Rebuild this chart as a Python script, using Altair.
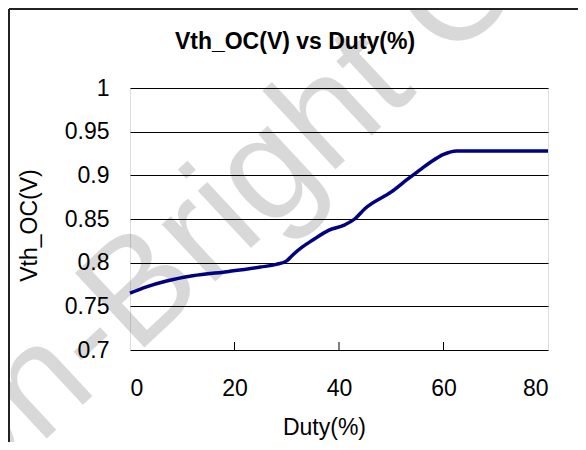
import altair as alt
import pandas as pd

# ---- data ----
duty = [0, 3, 7, 12, 19, 25, 28, 30, 31, 33, 35, 38, 41, 43, 45, 50, 53, 55, 57.5, 60, 62.5, 70, 80]
vth = [0.765, 0.772, 0.779, 0.785, 0.790, 0.795, 0.798, 0.802, 0.808, 0.818, 0.826, 0.837,
       0.843, 0.850, 0.862, 0.881, 0.895, 0.904, 0.915, 0.924, 0.928, 0.928, 0.928]
y_ticks = [0.7, 0.75, 0.8, 0.85, 0.9, 0.95, 1.0]
x_ticks = [0, 20, 40, 60, 80]
inner_ticks = [20, 40, 60]
title_text = "Vth_OC(V) vs Duty(%)"
x_title = "Duty(%)"
y_title = "Vth_OC(V)"
watermark = "On-Bright Confidential"

FONT = "Liberation Sans"
W, H = 418, 262
FS = 23

df = pd.DataFrame({"Duty": duty, "Vth": vth})
ticks_df = pd.DataFrame({"Duty": inner_ticks})
one = pd.DataFrame({"a": [0]})

xscale = alt.Scale(domain=[0, 80], nice=False)
yscale = alt.Scale(domain=[0.7, 1.0], nice=False, zero=False)

mark_wm = alt.Chart(one).mark_text(
    text=watermark, fontSize=148, angle=317, align="left", baseline="alphabetic",
    color="black", opacity=0.15, font=FONT
).encode(x=alt.value(-175), y=alt.value(436))

line = alt.Chart(df).mark_line(color="#000080", strokeWidth=3.5, interpolate="monotone").encode(
    x=alt.X("Duty:Q", scale=xscale, axis=alt.Axis(
        values=x_ticks, title=x_title, grid=False, ticks=False, tickSize=0, domain=False,
        labelFont=FONT, labelFontSize=FS, labelColor="black", labelPadding=27,
        titleFont=FONT, titleFontSize=FS, titleFontWeight="normal", titleColor="black",
        titleX=194, titleY=84, titleBaseline="alphabetic", titleAlign="center")),
    y=alt.Y("Vth:Q", scale=yscale, axis=alt.Axis(
        values=y_ticks, format="~g", grid=True, gridColor="black", gridWidth=1,
        ticks=False, tickSize=0, domain=False,
        labelFont=FONT, labelFontSize=FS, labelColor="black", labelPadding=21,
        title=y_title, titleFont=FONT, titleFontSize=FS, titleFontWeight="normal",
        titleColor="black", titleAngle=270, titleX=-94, titleY=137,
        titleBaseline="alphabetic", titleAlign="center")),
)

tick_marks = alt.Chart(ticks_df).mark_rule(color="black", strokeWidth=1).encode(
    x=alt.X("Duty:Q", scale=xscale), y=alt.value(H - 8), y2=alt.value(H)
)

title = alt.Chart(one).mark_text(
    text=title_text, fontSize=FS, fontWeight="bold", font=FONT, color="black",
    align="center", baseline="alphabetic"
).encode(x=alt.value(295 - 130), y=alt.value(49 - 88))

border_v = alt.Chart(one).mark_rule(color="#222222", strokeWidth=2).encode(
    x=alt.value(-121), y=alt.value(-79), y2=alt.value(460)
)
border_h = alt.Chart(one).mark_rule(color="#222222", strokeWidth=2).encode(
    x=alt.value(-121), x2=alt.value(500), y=alt.value(-79)
)

chart = alt.layer(mark_wm, line, tick_marks, title, border_v, border_h).properties(
    width=W, height=H,
    padding={"left": 122, "top": 80, "right": 30, "bottom": 92},
    autosize=alt.AutoSizeParams(type="none"),
).configure_view(stroke="black", strokeWidth=1.5).configure(background="white")

chart.save("out.html", embed_options={"renderer": "svg", "actions": False})
